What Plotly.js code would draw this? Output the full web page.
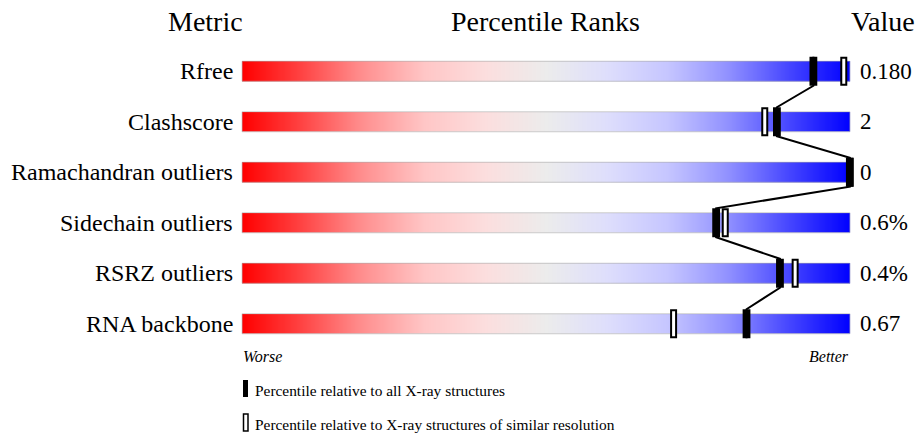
<!DOCTYPE html>
<html>
<head>
<meta charset="utf-8">
<script src="https://cdn.plot.ly/plotly-3.0.1.min.js"></script>
<style>
html,body{margin:0;padding:0;background:#fff;}
#chart{width:919px;height:433px;}
</style>
</head>
<body>
<div id="chart"></div>
<script>
// ---- data ----
var metrics = ['Rfree', 'Clashscore', 'Ramachandran outliers', 'Sidechain outliers', 'RSRZ outliers', 'RNA backbone'];
var valueLabels = ['0.180', '2', '0', '0.6%', '0.4%', '0.67'];
var pctAll = [94, 88, 100, 78, 88.5, 83];
var pctSimilar = [99, 86, 100, 79.5, 91, 71];
var headers = ['Metric', 'Percentile Ranks', 'Value'];
var scaleEnds = ['Worse', 'Better'];
var legendTexts = ['Percentile relative to all X-ray structures',
                   'Percentile relative to X-ray structures of similar resolution'];

// ---- layout geometry ----
var W = 919, H = 433;
var M = {l: 236, r: 57, t: 46, b: 84};
var plotW = W - M.l - M.r, plotH = H - M.t - M.b;
function px2x(px) { return (px - M.l) / plotW; }
function py2y(py) { return 1 - (py - M.t) / plotH; }
var FONT = 'Liberation Serif, Times New Roman, serif';

var rows = metrics.map(function (m, i) { return i; });

// gradient background (decorative, 0..100 percentile scale)
var NC = 600;
var edges = [], mids = [];
for (var k = 0; k <= NC; k++) edges.push(k * 100 / NC);
for (var k2 = 0; k2 < NC; k2++) mids.push((k2 + 0.5) * 100 / NC);
var zGrid = rows.map(function () { return mids.slice(); });

var colorscale = [
  [0.0, 'rgb(255,0,0)'],
  [0.1, 'rgb(255,70,70)'],
  [0.2, 'rgb(255,145,145)'],
  [0.3, 'rgb(255,198,198)'],
  [0.4, 'rgb(252,222,222)'],
  [0.5, 'rgb(236,236,236)'],
  [0.6, 'rgb(222,222,252)'],
  [0.7, 'rgb(198,198,255)'],
  [0.8, 'rgb(145,145,255)'],
  [0.9, 'rgb(70,70,255)'],
  [1.0, 'rgb(0,0,255)']
];

var heat = {
  type: 'heatmap', x: edges, y: rows, z: zGrid,
  zmin: 0, zmax: 100, colorscale: colorscale, showscale: false,
  ygap: 30.5, hoverinfo: 'skip'
};

// connecting line between "all structures" markers
var hh = 0.287;
var lx = [], ly = [];
rows.forEach(function (r, i) {
  lx.push(pctAll[i]); ly.push(r - hh);
  lx.push(pctAll[i]); ly.push(r + hh);
});
var link = {
  type: 'scatter', mode: 'lines', x: lx, y: ly, cliponaxis: false,
  line: {color: '#000', width: 2}, hoverinfo: 'skip', showlegend: false
};

var shapes = [];
// bar borders
var bh = 10 / (plotH / 6);
rows.forEach(function (r) {
  shapes.push({type: 'rect', xref: 'x', yref: 'y', x0: 0, x1: 100, y0: r - bh, y1: r + bh,
    line: {color: 'rgba(170,170,170,0.6)', width: 1}, fillcolor: 'rgba(0,0,0,0)', layer: 'above'});
});
// open markers (similar resolution)
var unit = plotW / 103;
var ohw = 2.5 / unit, ohh = 13.5 / (plotH / 6);
rows.forEach(function (r, i) {
  shapes.push({type: 'rect', xref: 'x', yref: 'y', x0: pctSimilar[i] - ohw, x1: pctSimilar[i] + ohw,
    y0: r - ohh, y1: r + ohh, line: {color: '#000', width: 2}, fillcolor: '#fff', layer: 'above'});
});
// filled markers (all X-ray structures)
var bhw = 3.9 / unit;
rows.forEach(function (r, i) {
  shapes.push({type: 'rect', xref: 'x', yref: 'y', x0: pctAll[i] - bhw, x1: pctAll[i] + bhw,
    y0: r - hh, y1: r + hh, line: {width: 0}, fillcolor: '#000', layer: 'above'});
});
// legend symbols
shapes.push({type: 'rect', xref: 'paper', yref: 'paper', x0: px2x(243), x1: px2x(248),
  y0: py2y(397), y1: py2y(380), line: {width: 0}, fillcolor: '#000'});
shapes.push({type: 'rect', xref: 'paper', yref: 'paper', x0: px2x(243.5), x1: px2x(248),
  y0: py2y(431), y1: py2y(414), line: {width: 1.5, color: '#000'}, fillcolor: '#fff'});

var ann = [];
rows.forEach(function (r, i) {
  ann.push({xref: 'x', yref: 'y', x: 0, y: r, text: metrics[i], showarrow: false,
    xanchor: 'right', yanchor: 'middle', xshift: -7, font: {family: FONT, size: 24, color: '#000'}});
  ann.push({xref: 'x', yref: 'y', x: 100, y: r, text: valueLabels[i], showarrow: false,
    xanchor: 'left', yanchor: 'middle', xshift: 8, font: {family: FONT, size: 23, color: '#000'}});
});
var headerX = [205, 545, 883];
headers.forEach(function (h, i) {
  ann.push({xref: 'paper', yref: 'paper', x: px2x(headerX[i]), y: py2y(22), text: h, showarrow: false,
    xanchor: 'center', yanchor: 'middle', font: {family: FONT, size: 28, color: '#000'}});
});
ann.push({xref: 'x', yref: 'paper', x: 0, y: py2y(356), text: '<i>' + scaleEnds[0] + '</i>', showarrow: false,
  xanchor: 'left', yanchor: 'middle', xshift: -1, font: {family: FONT, size: 16, color: '#000'}});
ann.push({xref: 'x', yref: 'paper', x: 100, y: py2y(356), text: '<i>' + scaleEnds[1] + '</i>', showarrow: false,
  xanchor: 'right', yanchor: 'middle', xshift: 1, font: {family: FONT, size: 16, color: '#000'}});
ann.push({xref: 'paper', yref: 'paper', x: px2x(253), y: py2y(391), text: legendTexts[0], showarrow: false,
  xanchor: 'left', yanchor: 'middle', font: {family: FONT, size: 15.4, color: '#000'}});
ann.push({xref: 'paper', yref: 'paper', x: px2x(253), y: py2y(424), text: legendTexts[1], showarrow: false,
  xanchor: 'left', yanchor: 'middle', font: {family: FONT, size: 15.4, color: '#000'}});

var layout = {
  width: W, height: H,
  margin: M,
  paper_bgcolor: '#fff', plot_bgcolor: '#fff',
  showlegend: false,
  xaxis: {range: [-1, 102], visible: false, fixedrange: true},
  yaxis: {range: [5.5, -0.5], visible: false, fixedrange: true},
  shapes: shapes,
  annotations: ann,
  font: {family: FONT}
};

Plotly.newPlot('chart', [heat, link], layout, {staticPlot: true, displayModeBar: false});
</script>
</body>
</html>
